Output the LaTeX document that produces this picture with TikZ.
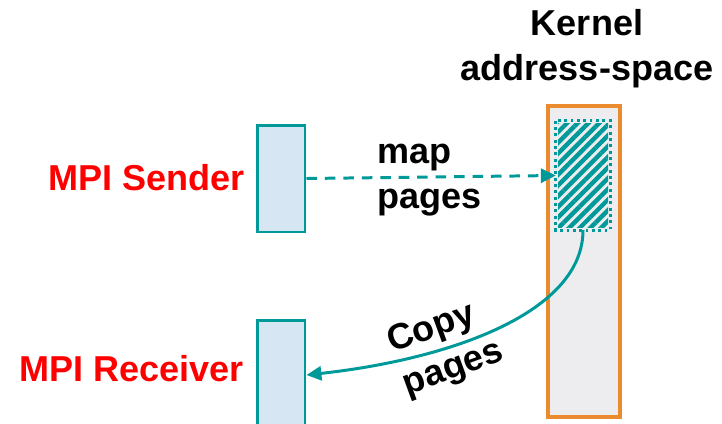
\documentclass[tikz,border=0pt]{standalone}
\usepackage{fontspec}
\setmainfont{Liberation Sans}
\usetikzlibrary{arrows.meta,patterns.meta}
\definecolor{tealLine}{RGB}{0,153,153}
\definecolor{bufFill}{RGB}{214,230,242}
\definecolor{kernelLine}{RGB}{234,139,47}
\definecolor{kernelFill}{RGB}{237,237,240}
\definecolor{mpiRed}{RGB}{255,0,0}
\begin{document}
\begin{tikzpicture}[x={(0.02cm,0)}, y={(0,-0.02cm)},
    bufStyle/.style={rectangle, draw=tealLine, fill=bufFill, line width=1.7pt, minimum width=0.96cm, inner sep=0pt},
    kernelStyle/.style={rectangle, draw=kernelLine, fill=kernelFill, line width=2.3pt, minimum width=1.44cm, minimum height=6.22cm, inner sep=0pt},
    hatchStyle/.style={rectangle, minimum width=1cm, minimum height=2.1cm, inner sep=0pt,
        pattern={Lines[angle=45, distance=4.3pt, line width=2.5pt]}, pattern color=tealLine},
    labelStyle/.style={font=\bfseries\fontsize{20.5}{25.5}\selectfont, inner sep=0pt},
    arrowStyle/.style={draw=tealLine, line width=1.7pt, -{Triangle[length=8.5pt, width=8pt]}}]
    \useasboundingbox (0,0) rectangle (722,423);
    \clip (0,0) rectangle (722,423);

    \node[bufStyle, minimum height=2.14cm] (send_buf) at (281, 178.5) {};
    \node[bufStyle, minimum height=2.2cm]  (recv_buf) at (281, 375) {};
    \node[kernelStyle] (kernel_space) at (584, 261.5) {};
    \node[hatchStyle]  (kernel_pages) at (583, 175.5) {};
    \draw[tealLine, dotted, line width=1.6pt] (kernel_pages.north west) rectangle (kernel_pages.south east);

    \node[labelStyle, text=mpiRed, anchor=base east] (send_lbl) at (245, 190) {MPI Sender};
    \node[labelStyle, text=mpiRed, anchor=base east] (recv_lbl) at (244, 381) {MPI Receiver};
    \node[labelStyle, align=center] (kernel_lbl) at (587, 49) {Kernel\\address-space};
    \node[labelStyle, align=left, anchor=west] (map_lbl) at (377, 180) {map\\pages};
    \node[labelStyle, align=left, rotate=20] (copy_lbl) at (446, 348) {Copy\\pages};

    \draw[arrowStyle, dash pattern=on 6pt off 4.5pt] (send_buf.east) -- (kernel_pages.west);
    \draw[arrowStyle] (kernel_pages.south) .. controls +(0,82) and +(145,-16) .. (recv_buf.east);
\end{tikzpicture}
\end{document}
